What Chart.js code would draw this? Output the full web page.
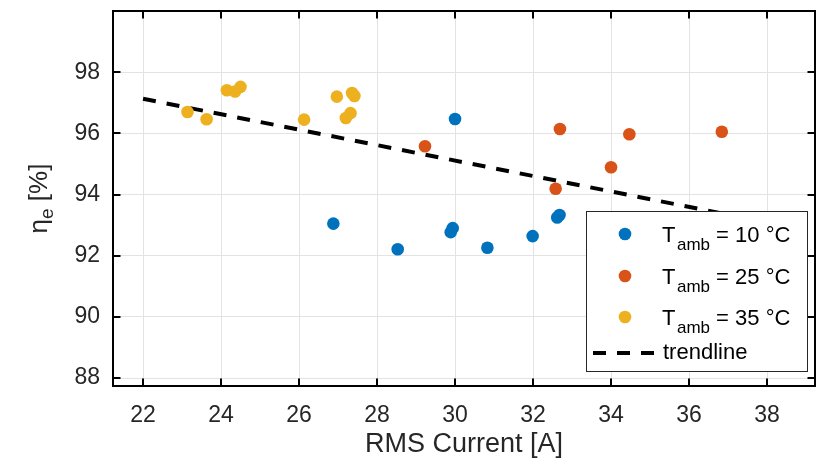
<!DOCTYPE html>
<html>
<head>
<meta charset="utf-8">
<script src="https://cdn.jsdelivr.net/npm/chart.js@4/dist/chart.umd.min.js"></script>
<style>
  html, body { margin: 0; padding: 0; background: #ffffff; }
  #wrap { width: 825px; height: 464px; }
</style>
</head>
<body>
<div id="wrap"><canvas id="c" width="825" height="464"></canvas></div>
<script>
// ---- data ----
const tamb10X = [26.88, 28.53, 29.89, 29.94, 30.00, 30.83, 31.99, 32.62, 32.68];
const tamb10Y = [93.05, 92.21, 92.77, 92.90, 96.47, 92.26, 92.64, 93.25, 93.33];
const tamb25X = [29.23, 32.58, 32.69, 34.00, 34.47, 36.84];
const tamb25Y = [95.58, 94.19, 96.14, 94.89, 95.97, 96.05];
const tamb35X = [23.14, 23.63, 24.15, 24.36, 24.50, 26.13, 26.97, 27.20, 27.32, 27.36, 27.42];
const tamb35Y = [96.70, 96.46, 97.41, 97.37, 97.52, 96.45, 97.20, 96.50, 96.66, 97.32, 97.22];
const trendX = [22, 38];
const trendY = [97.13, 93.09];
const xTicks = [22, 24, 26, 28, 30, 32, 34, 36, 38];
const yTicks = [88, 90, 92, 94, 96, 98];
const temps = [10, 25, 35];
const seriesColors = ['#0072BD', '#D95319', '#EDB120'];
const xTitle = 'RMS Current [A]';
const trendLabel = 'trendline';

const FONT = '"Liberation Sans", Arial, Helvetica, sans-serif';

function pts(xs, ys) { return xs.map((x, i) => ({ x: x, y: ys[i] })); }

const seriesX = [tamb10X, tamb25X, tamb35X];
const seriesY = [tamb10Y, tamb25Y, tamb35Y];

const datasets = temps.map((t, i) => ({
  type: 'scatter',
  label: 'Tamb = ' + t + ' °C',
  data: pts(seriesX[i], seriesY[i]),
  backgroundColor: seriesColors[i],
  borderWidth: 0,
  pointRadius: 6.3,
  pointHoverRadius: 6.3
}));
datasets.push({
  type: 'line',
  label: trendLabel,
  data: pts(trendX, trendY),
  borderColor: '#000000',
  borderWidth: 4,
  borderDash: [13, 11],
  pointRadius: 0,
  fill: false,
  tension: 0
});

const decor = {
  id: 'decor',
  afterDatasetsDraw(chart) {
    const ctx = chart.ctx, a = chart.chartArea;
    const xs = chart.scales.x, ys = chart.scales.y;
    ctx.save();
    ctx.strokeStyle = '#000';
    ctx.lineWidth = 2;
    ctx.setLineDash([]);
    ctx.strokeRect(a.left, a.top, a.right - a.left, a.bottom - a.top);
    const tl = 7.5;
    ctx.beginPath();
    xTicks.forEach(v => {
      const p = Math.round(xs.getPixelForValue(v));
      ctx.moveTo(p, a.bottom); ctx.lineTo(p, a.bottom - tl);
      ctx.moveTo(p, a.top); ctx.lineTo(p, a.top + tl);
    });
    yTicks.forEach(v => {
      const p = Math.round(ys.getPixelForValue(v));
      ctx.moveTo(a.left, p); ctx.lineTo(a.left + tl, p);
      ctx.moveTo(a.right, p); ctx.lineTo(a.right - tl, p);
    });
    ctx.stroke();
    ctx.restore();
  },
  afterDraw(chart) {
    const ctx = chart.ctx, a = chart.chartArea;
    ctx.save();
    // x title
    ctx.fillStyle = '#262626';
    ctx.font = '27px ' + FONT;
    ctx.textAlign = 'center';
    ctx.textBaseline = 'middle';
    ctx.fillText(xTitle, (a.left + a.right) / 2, 445);
    // y title: eta_e [%]
    ctx.save();
    ctx.translate(41, (a.top + a.bottom) / 2);
    ctx.rotate(-Math.PI / 2);
    ctx.textBaseline = 'alphabetic';
    ctx.textAlign = 'left';
    ctx.font = '26px ' + FONT;
    const w1 = ctx.measureText('η').width;
    ctx.font = '19px ' + FONT;
    const w2 = ctx.measureText('e').width;
    ctx.font = '26px ' + FONT;
    const w3 = ctx.measureText(' [%]').width;
    let x0 = -(w1 + w2 + w3) / 2;
    ctx.fillText('η', x0, 6);
    ctx.font = '19px ' + FONT;
    ctx.fillText('e', x0 + w1, 12);
    ctx.font = '26px ' + FONT;
    ctx.fillText(' [%]', x0 + w1 + w2, 6);
    ctx.restore();

    // legend
    const L = 586, T = 211, R = 807, B = 371;
    ctx.fillStyle = '#ffffff';
    ctx.fillRect(L, T, R - L, B - T);
    ctx.strokeStyle = '#262626';
    ctx.lineWidth = 1;
    ctx.strokeRect(L + 0.5, T + 0.5, R - L, B - T);
    const rows = [234, 276, 317];
    temps.forEach((t, i) => {
      const cy = rows[i];
      ctx.fillStyle = seriesColors[i];
      ctx.beginPath();
      ctx.arc(625, cy, 6.3, 0, Math.PI * 2);
      ctx.fill();
      ctx.fillStyle = '#000';
      ctx.textAlign = 'left';
      ctx.textBaseline = 'alphabetic';
      ctx.font = '22px ' + FONT;
      ctx.fillText('T', 662, cy + 8);
      const tw = ctx.measureText('T').width;
      ctx.font = '17px ' + FONT;
      ctx.fillText('amb', 662 + tw + 1.5, cy + 16);
      const sw = ctx.measureText('amb').width;
      ctx.font = '22px ' + FONT;
      ctx.fillText(' = ' + t + ' °C', 662 + tw + 1.5 + sw, cy + 8);
    });
    const ty = 353;
    ctx.strokeStyle = '#000';
    ctx.lineWidth = 4;
    ctx.setLineDash([13, 11]);
    ctx.beginPath();
    ctx.moveTo(593, ty); ctx.lineTo(657, ty);
    ctx.stroke();
    ctx.setLineDash([]);
    ctx.fillStyle = '#000';
    ctx.font = '22px ' + FONT;
    ctx.textBaseline = 'middle';
    ctx.fillText(trendLabel, 663, ty);
    ctx.restore();
  }
};

new Chart(document.getElementById('c'), {
  data: { datasets: datasets },
  options: {
    responsive: false,
    animation: false,
    devicePixelRatio: 1,
    layout: { padding: { top: 11, right: 10, left: 0, bottom: 0 } },
    plugins: { legend: { display: false }, tooltip: { enabled: false } },
    scales: {
      x: {
        type: 'linear',
        min: 21.23, max: 39.23,
        afterBuildTicks: s => { s.ticks = xTicks.map(v => ({ value: v })); },
        afterFit: s => { s.height = 78; s.paddingLeft = 0; s.paddingRight = 0; },
        grid: { color: '#e3e3e3', lineWidth: 1, drawTicks: false },
        border: { display: false },
        ticks: { color: '#262626', font: { size: 23, family: FONT }, padding: 16, maxRotation: 0, autoSkip: false }
      },
      y: {
        type: 'linear',
        min: 87.74, max: 100,
        afterBuildTicks: s => { s.ticks = yTicks.map(v => ({ value: v })); },
        afterFit: s => { s.width = 113; s.paddingTop = 0; s.paddingBottom = 0; },
        grid: { color: '#e3e3e3', lineWidth: 1, drawTicks: false },
        border: { display: false },
        ticks: { color: '#262626', font: { size: 23, family: FONT }, padding: 13, autoSkip: false }
      }
    }
  },
  plugins: [decor]
});
</script>
</body>
</html>
